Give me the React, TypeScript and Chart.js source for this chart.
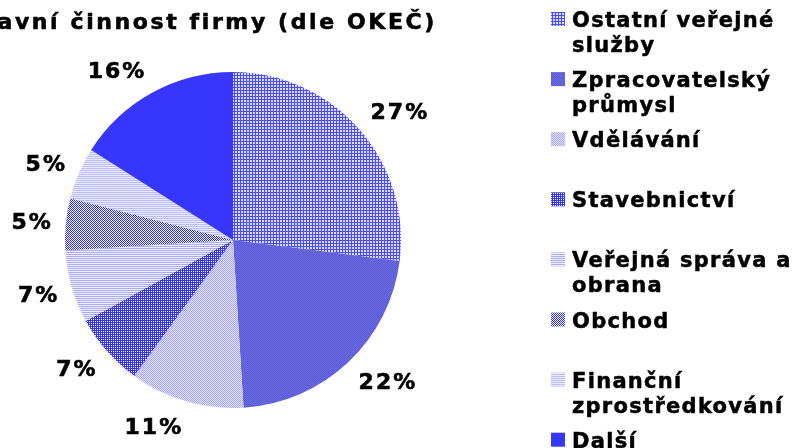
import React, { useEffect, useRef } from "react";
import { Chart, registerables } from "chart.js";

Chart.register(...registerables);

const titleText = "Hlavní činnost firmy (dle OKEČ)";
const categories = [
  "Ostatní veřejné\nslužby",
  "Zpracovatelský\nprůmysl",
  "Vdělávání",
  "Stavebnictví",
  "Veřejná správa a\nobrana",
  "Obchod",
  "Finanční\nzprostředkování",
  "Další",
];
const shares = [27, 22, 11, 7, 7, 5, 5, 16];

type PatSpec = { size: number; fg: string; bg: string; on: (x: number, y: number) => boolean };
const patternSpecs: PatSpec[] = [
  { size: 3, fg: "#4a4aff", bg: "#dcdcff", on: (x, y) => x === 0 || y === 0 },
  { size: 2, fg: "#5c5cd6", bg: "#6a6ae0", on: (x, y) => (x + y) % 2 === 0 },
  { size: 2, fg: "#a6a6ff", bg: "#e2e2ff", on: (x, y) => (x + y) % 2 === 0 },
  { size: 2, fg: "#3030ff", bg: "#ffffff", on: (x, y) => !(x === 1 && y === 1) },
  { size: 2, fg: "#aaaaf6", bg: "#eeeeff", on: (x, y) => y === 0 },
  { size: 2, fg: "#3030ff", bg: "#f4f4ff", on: (x, y) => (x + y) % 2 === 0 },
  { size: 2, fg: "#bcbcf8", bg: "#eaeaff", on: (x, y) => y === 0 },
  { size: 1, fg: "#3636ff", bg: "#3636ff", on: () => true },
];

function makePattern(spec: PatSpec): CanvasPattern | string {
  const c = document.createElement("canvas");
  c.width = spec.size;
  c.height = spec.size;
  const g = c.getContext("2d")!;
  for (let y = 0; y < spec.size; y++) {
    for (let x = 0; x < spec.size; x++) {
      g.fillStyle = spec.on(x, y) ? spec.fg : spec.bg;
      g.fillRect(x, y, 1, 1);
    }
  }
  const p = g.createPattern(c, "repeat");
  return p || spec.fg;
}

const FONT = '"DejaVu Sans", Verdana, sans-serif';

function boldText(ctx: CanvasRenderingContext2D, t: string, x: number, y: number) {
  ctx.fillText(t, x, y);
  ctx.strokeText(t, x, y);
}

export default function App() {
  const ref = useRef<HTMLCanvasElement>(null);
  useEffect(() => {
    if (!ref.current) return;
    const patterns = patternSpecs.map(makePattern);

    const titlePlugin = {
      id: "titleDraw",
      afterDraw(chart: any) {
        const ctx = chart.ctx as CanvasRenderingContext2D;
        ctx.save();
        ctx.font = `bold 22px ${FONT}`;
        (ctx as any).letterSpacing = "2.6px";
        ctx.fillStyle = "#000";
        ctx.strokeStyle = "#000";
        ctx.lineWidth = 0.6;
        ctx.textAlign = "right";
        ctx.textBaseline = "alphabetic";
        boldText(ctx, titleText, 437, 29);
        ctx.restore();
      },
    };

    const labelPlugin = {
      id: "pctLabels",
      afterDatasetsDraw(chart: any) {
        const ctx = chart.ctx as CanvasRenderingContext2D;
        const meta = chart.getDatasetMeta(0);
        ctx.save();
        ctx.font = `bold 22px ${FONT}`;
        (ctx as any).letterSpacing = "2px";
        ctx.fillStyle = "#000";
        ctx.strokeStyle = "#000";
        ctx.lineWidth = 0.6;
        ctx.textAlign = "center";
        ctx.textBaseline = "middle";
        meta.data.forEach((arc: any, i: number) => {
          const p = arc.getProps(["x", "y", "startAngle", "endAngle", "outerRadius"], true);
          const mid = (p.startAngle + p.endAngle) / 2;
          const dx = Math.cos(mid);
          const dy = Math.sin(mid);
          const txt = `${shares[i]}%`;
          const w = ctx.measureText(txt).width;
          const d = p.outerRadius + 14;
          const cx = p.x + dx * d + Math.sign(dx) * w / 2 + 1;
          const cy = p.y + dy * d + dy * 12 + 2;
          boldText(ctx, txt, cx, cy);
        });
        ctx.restore();
      },
    };

    const legendPlugin = {
      id: "legendDraw",
      afterDraw(chart: any) {
        const ctx = chart.ctx as CanvasRenderingContext2D;
        ctx.save();
        ctx.font = `bold 21px ${FONT}`;
        (ctx as any).letterSpacing = "1.3px";
        ctx.strokeStyle = "#000";
        ctx.lineWidth = 0.5;
        ctx.textAlign = "left";
        ctx.textBaseline = "alphabetic";
        categories.forEach((label, i) => {
          const top = 12 + i * 60.1;
          ctx.fillStyle = patterns[i] as any;
          ctx.fillRect(551, top, 14, 14);
          ctx.fillStyle = "#000";
          label.split("\n").forEach((line, j) => {
            boldText(ctx, line, 572, top + 15 + j * 25);
          });
        });
        ctx.restore();
      },
    };

    const chart = new Chart(ref.current, {
      type: "pie",
      data: {
        labels: categories.map((c) => c.replace("\n", " ")),
        datasets: [
          {
            data: shares,
            backgroundColor: patterns as any,
            borderWidth: 0,
          },
        ],
      },
      options: {
        animation: false,
        responsive: true,
        maintainAspectRatio: false,
        layout: { padding: { left: 65, right: 398, top: 72, bottom: 40 } },
        plugins: {
          legend: { display: false },
          title: { display: false },
          tooltip: { enabled: false },
        },
      },
      plugins: [titlePlugin, labelPlugin, legendPlugin],
    });
    return () => chart.destroy();
  }, []);

  return (
    <div style={{ position: "fixed", left: 0, top: 0, width: 799, height: 448, background: "#fff" }}>
      <canvas ref={ref} />
    </div>
  );
}
